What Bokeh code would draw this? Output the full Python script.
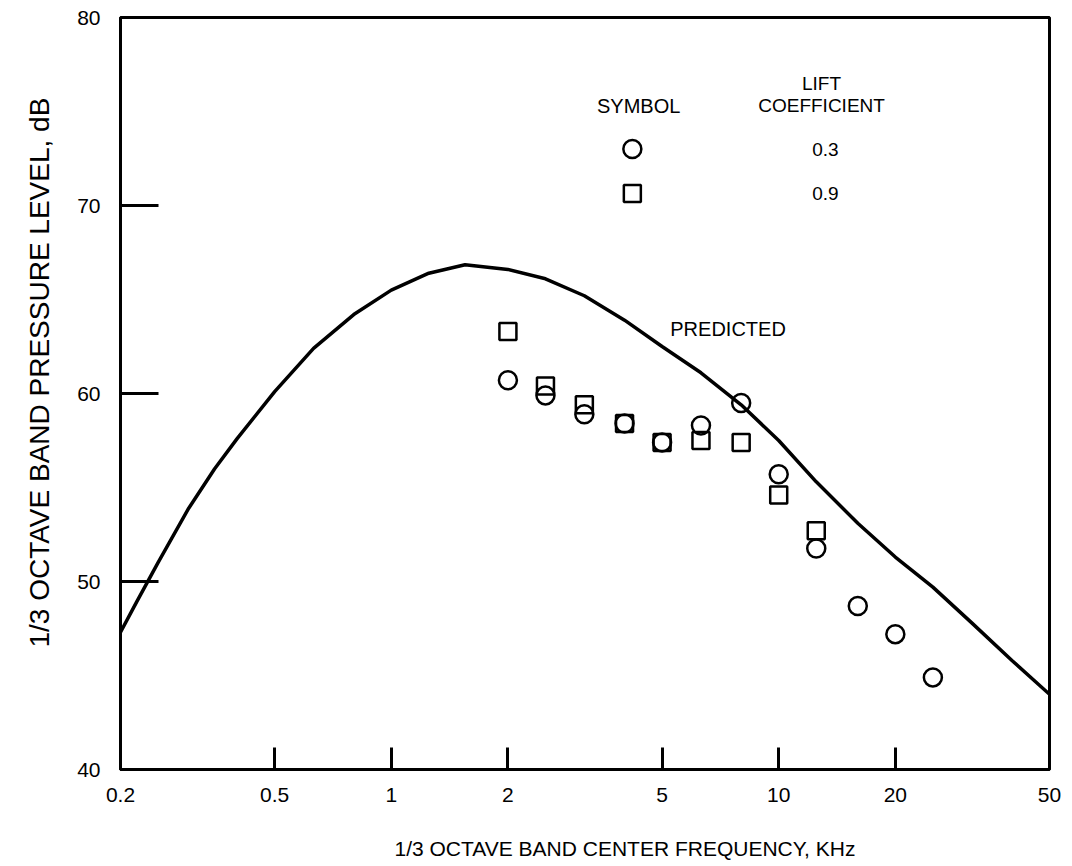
from bokeh.plotting import figure
from bokeh.models import FixedTicker, Range1d, Title
from bokeh.core.properties import value
from bokeh.embed import file_html
from bokeh.resources import INLINE

# ---------------- data ----------------
x_ticks = [0.2, 0.5, 1, 2, 5, 10, 20, 50]
x_tick_labels = ["0.2", "0.5", "1", "2", "5", "10", "20", "50"]
y_ticks = [40, 50, 60, 70, 80]

freq_pred = [0.2, 0.22, 0.25, 0.3, 0.35, 0.4, 0.5, 0.63, 0.8, 1.0, 1.25, 1.55, 2.0,
             2.5, 3.15, 4.0, 5.0, 6.3, 8.0, 10, 12.5, 16, 20, 25, 31.5, 40, 50]
level_pred = [47.3, 48.9, 51.0, 53.9, 56.0, 57.6, 60.1, 62.4, 64.2, 65.5, 66.4, 66.85, 66.6,
              66.1, 65.2, 63.9, 62.5, 61.1, 59.4, 57.5, 55.3, 53.1, 51.3, 49.7, 47.8, 45.8, 44.0]

freq_c03 = [2.0, 2.5, 3.15, 4.0, 5.0, 6.3, 8.0, 10, 12.5, 16, 20, 25]
level_c03 = [60.7, 59.9, 58.9, 58.4, 57.4, 58.3, 59.5, 55.7, 51.75, 48.7, 47.2, 44.9]

freq_c09 = [2.0, 2.5, 3.15, 4.0, 5.0, 6.3, 8.0, 10, 12.5]
level_c09 = [63.3, 60.4, 59.4, 58.4, 57.4, 57.5, 57.4, 54.6, 52.7]

legend_values = ["0.3", "0.9"]

FONT = "Liberation Sans"

p = figure(width=1072, height=866, x_axis_type="log",
           x_range=Range1d(0.2, 50), y_range=Range1d(40, 80),
           output_backend="svg", toolbar_location=None,
           min_border_left=120, min_border_right=23,
           min_border_top=17, min_border_bottom=97)
p.grid.visible = False
p.background_fill_color = "white"
p.border_fill_color = "white"
p.outline_line_color = "black"
p.outline_line_width = 3

# x axis
xa = p.xaxis[0]
xa.ticker = FixedTicker(ticks=x_ticks, minor_ticks=[])
xa.major_label_overrides = {t: l for t, l in zip(x_ticks, x_tick_labels)}
xa.major_tick_in = 22
xa.major_tick_out = 0
xa.major_tick_line_width = 3
xa.minor_tick_line_color = None
xa.axis_line_width = 3
xa.major_label_text_font = FONT
xa.major_label_text_font_size = "21px"
xa.major_label_text_color = "black"
xa.major_label_standoff = 18
# blank spacer label so the title below sits lower without taking extra room
xa.axis_label = " "
xa.axis_label_text_font_size = "10px"
xa.axis_label_standoff = 14

xtitle = Title(text="1/3 OCTAVE BAND CENTER FREQUENCY, KHz", align="left",
               offset=274, text_font=FONT, text_font_size="21px",
               text_font_style="normal", text_color="black", standoff=4)
p.add_layout(xtitle, "below")

# y axis
ya = p.yaxis[0]
ya.ticker = FixedTicker(ticks=y_ticks, minor_ticks=[])
ya.major_tick_in = 38
ya.major_tick_out = 0
ya.major_tick_line_width = 3
ya.minor_tick_line_color = None
ya.axis_line_width = 3
ya.major_label_text_font = FONT
ya.major_label_text_font_size = "21px"
ya.major_label_text_color = "black"
ya.major_label_standoff = 20

ytitle = Title(text="1/3 OCTAVE BAND PRESSURE  LEVEL, dB", align="left",
               offset=122, text_font=FONT, text_font_size="28px",
               text_font_style="normal", text_color="black", standoff=40)
p.add_layout(ytitle, "left")

# predicted curve
p.line(freq_pred, level_pred, line_color="black", line_width=3.5)

# measurements
p.scatter(freq_c03, level_c03, marker="circle", size=18, fill_alpha=0,
          line_color="black", line_width=2.5)
p.scatter(freq_c09, level_c09, marker="square", size=17, fill_alpha=0,
          line_color="black", line_width=2.5)

# legend (drawn as text and symbols)
p.scatter([4.19], [73.0], marker="circle", size=18, fill_alpha=0,
          line_color="black", line_width=2.5)
p.scatter([4.19], [70.64], marker="square", size=17, fill_alpha=0,
          line_color="black", line_width=2.5)
p.text(x=[4.35], y=[75.3], text=["SYMBOL"], text_font=value(FONT),
       text_font_size="20px", text_align="center", text_baseline="middle",
       text_color="black")
p.text(x=[12.9, 12.9], y=[76.5, 75.3], text=["LIFT", "COEFFICIENT"],
       text_font=value(FONT), text_font_size="19px", text_align="center",
       text_baseline="middle", text_color="black")
p.text(x=[13.2, 13.2], y=[73.0, 70.64], text=legend_values,
       text_font=value(FONT), text_font_size="19px", text_align="center",
       text_baseline="middle", text_color="black")
p.text(x=[7.4], y=[63.45], text=["PREDICTED"], text_font=value(FONT),
       text_font_size="20px", text_align="center", text_baseline="middle",
       text_color="black")

open("out.html", "w").write(file_html(p, INLINE))
